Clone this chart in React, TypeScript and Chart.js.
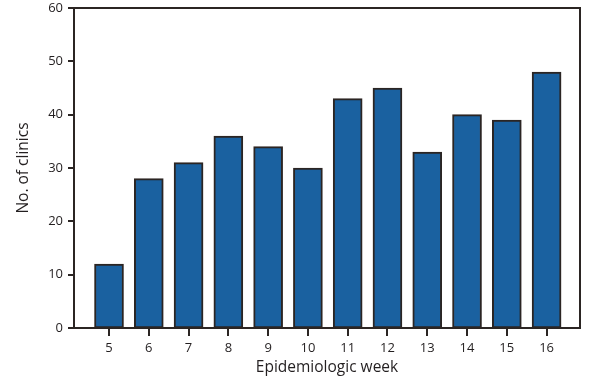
import React, { useEffect, useRef } from "react";
import { Chart, registerables } from "chart.js";

Chart.register(...registerables);

const weeks = [5, 6, 7, 8, 9, 10, 11, 12, 13, 14, 15, 16];
const clinics = [12, 28, 31, 36, 34, 30, 43, 45, 33, 40, 39, 48];
const yTicks = [0, 10, 20, 30, 40, 50, 60];

const INK = "#2b2523";
const FONT = "'Open Sans', 'DejaVu Sans', sans-serif";

const boxPlugin = {
  id: "box",
  afterDraw(chart: any) {
    const { ctx, chartArea: a } = chart;
    const xs = chart.scales.x;
    const ys = chart.scales.y;
    ctx.save();
    ctx.strokeStyle = INK;
    ctx.lineWidth = 2;
    ctx.beginPath();
    weeks.forEach((w) => {
      const px = Math.round(xs.getPixelForValue(w));
      ctx.moveTo(px, a.bottom);
      ctx.lineTo(px, a.bottom + 8);
    });
    yTicks.forEach((v) => {
      const py = Math.round(ys.getPixelForValue(v));
      ctx.moveTo(a.left, py);
      ctx.lineTo(a.left - 6, py);
    });
    ctx.stroke();
    ctx.strokeRect(a.left, a.top, a.right - a.left, a.bottom - a.top);
    ctx.restore();
  },
};

export default function App() {
  const ref = useRef<HTMLCanvasElement | null>(null);
  useEffect(() => {
    document.body.style.margin = "0";
    const chart = new Chart(ref.current!, {
      type: "bar",
      data: {
        datasets: [
          {
            data: weeks.map((w, i) => ({ x: w, y: clinics[i] })),
            backgroundColor: "#1a61a0",
            borderColor: INK,
            borderWidth: 2,
            borderSkipped: false,
            barThickness: 29,
          },
        ],
      },
      options: {
        animation: false,
        responsive: false,
        maintainAspectRatio: false,
        layout: { padding: { left: 0, top: 0, right: 16, bottom: 0 } },
        plugins: { legend: { display: false }, tooltip: { enabled: false } },
        scales: {
          x: {
            type: "linear",
            offset: false,
            min: 4.12,
            max: 16.84,
            afterBuildTicks: (axis: any) => {
              axis.ticks = weeks.map((v) => ({ value: v }));
            },
            afterFit: (s: any) => {
              s.height = 51;
              s.paddingLeft = 0;
              s.paddingRight = 0;
            },
            grid: { display: false, drawTicks: true, tickLength: 8 },
            border: { display: false },
            ticks: {
              color: "#231f20",
              font: { family: FONT, size: 13 },
              padding: 4,
              maxRotation: 0,
              autoSkip: false,
              callback: (v: any) => String(v),
            },
            title: {
              display: true,
              text: "Epidemiologic week",
              color: "#231f20",
              font: { family: FONT, size: 15.5 },
              padding: { top: 0, bottom: 2 },
            },
          },
          y: {
            min: 0,
            max: 60,
            afterBuildTicks: (axis: any) => {
              axis.ticks = yTicks.map((v) => ({ value: v }));
            },
            afterFit: (s: any) => {
              s.width = 74;
              s.paddingTop = 8;
              s.paddingBottom = 0;
            },
            grid: { display: false, drawTicks: true, tickLength: 6 },
            border: { display: false },
            ticks: {
              color: "#231f20",
              font: { family: FONT, size: 13 },
              padding: 5,
            },
            title: {
              display: true,
              text: "No. of clinics",
              color: "#231f20",
              font: { family: FONT, size: 15.5 },
              padding: { top: 14, bottom: 0 },
            },
          },
        },
      },
      plugins: [boxPlugin],
    });
    return () => chart.destroy();
  }, []);
  return (
    <div style={{ width: 596, height: 379 }}>
      <canvas ref={ref} width={596} height={379} style={{ width: 596, height: 379, display: "block" }} />
    </div>
  );
}
